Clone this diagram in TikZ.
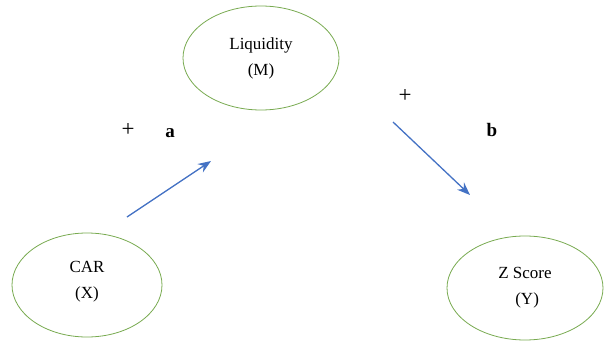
\documentclass[tikz,border=0pt]{standalone}
\usepackage{fontspec}
\setmainfont{Liberation Serif}
\usetikzlibrary{arrows.meta,shapes.geometric,positioning}
\definecolor{ovalgreen}{RGB}{120,170,80}
\definecolor{arrowblue}{RGB}{68,114,196}
\tikzset{
  var/.style={ellipse,draw=ovalgreen,line width=0.8pt,minimum width=#1,minimum height=104pt,align=center,font=\fontsize{17}{26}\selectfont,inner sep=0pt},
  path/.style={arrowblue,line width=1.3pt,-{Stealth[length=13pt,width=10pt]}},
  sign/.style={font=\fontsize{23}{24}\selectfont},
  coef/.style={font=\fontsize{19}{20}\selectfont\bfseries}
}
\begin{document}
\begin{tikzpicture}[x=1pt,y=-1pt]
\useasboundingbox (0,0) rectangle (605,340);
% variables
\node[var=156pt] (liq) at (261,58) {Liquidity\\(M)};
\node[var=150pt] (car) at (87,285) {CAR\\(X)\\[-16pt]};
\node[var=156pt] (zsc) at (525,288) {Z Score\\\ (Y)};
% paths
\coordinate (a0) at (127,217);
\coordinate (a1) at (211,161);
\coordinate (b0) at (393,122);
\coordinate (b1) at (470,195);
\draw[path] (a0) -- (a1);
\draw[path] (b0) -- (b1);
% signs and coefficients
\node[sign] (pa) at (128,130) {+};
\node[coef] (ca) at (170,133) {a};
\node[sign] (pb) at (405,96) {+};
\node[coef] (cb) at (492,130) {b};
\end{tikzpicture}
\end{document}
